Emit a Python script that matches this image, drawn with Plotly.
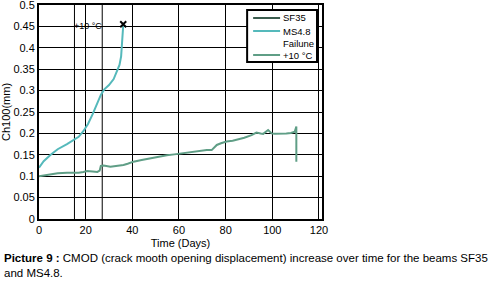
import plotly.graph_objects as go

# MS4.8 beam (failed at ~36 days)
ms_days = [0, 2, 5, 8, 12, 15, 17, 19, 21, 23, 25, 26.5, 28, 30, 32, 33.5, 34.5, 35.2, 35.5, 35.8, 36, 36.1]
ms_cmod = [0.12, 0.135, 0.15, 0.163, 0.175, 0.185, 0.192, 0.205, 0.222, 0.245, 0.27, 0.29, 0.303, 0.313, 0.327, 0.345, 0.36, 0.38, 0.40, 0.42, 0.44, 0.452]

# SF35 beam
sf_days = [0, 2, 5, 8, 12, 17, 19, 20.6, 23, 25, 26, 26.5, 27.7, 30.6, 33, 36.2, 38, 40.5, 44, 47.6, 51.9, 54.8, 58, 60.5, 63, 66.2, 69, 71.9, 74, 76.2, 78, 80.4, 83, 86.1, 88, 91.1, 93.2, 95, 96.1, 98.2, 99.7, 101, 103, 106, 108, 109.6, 110.3, 110.3]
sf_cmod = [0.1, 0.102, 0.104, 0.107, 0.108, 0.108, 0.11, 0.112, 0.111, 0.11, 0.113, 0.124, 0.125, 0.122, 0.124, 0.126, 0.129, 0.134, 0.138, 0.142, 0.146, 0.149, 0.151, 0.153, 0.154, 0.156, 0.158, 0.161, 0.161, 0.173, 0.177, 0.181, 0.183, 0.187, 0.19, 0.196, 0.202, 0.2, 0.199, 0.208, 0.2, 0.199, 0.199, 0.2, 0.201, 0.204, 0.216, 0.134]

failure_day = [36.1]
failure_cmod = [0.455]

temp_event_days = [15.2, 27.1]
temp_label = "+10 °C"

x_ticks = [0, 20, 40, 60, 80, 100, 120]
y_ticks = [0, 0.05, 0.1, 0.15, 0.2, 0.25, 0.3, 0.35, 0.4, 0.45, 0.5]

legend_names = ["SF35", "MS4.8", "Failune", temp_label]

c_sf_plot = "#5f9e86"
c_sf_leg = "#3b5c4e"
c_ms = "#55b9bb"
c_temp = "#5f9e86"
legend_colors = [c_sf_leg, c_ms, None, c_temp]

W, H = 502, 282
L, R, T, B = 38.5, 322, 5, 219   # plot area in pixels


def px_x(px):
    return (px - L) / (R - L)


def px_y(py):
    return (B - py) / (B - T)


fig = go.Figure()

fig.add_trace(go.Scatter(x=sf_days, y=sf_cmod, mode="lines",
                         line=dict(color=c_sf_plot, width=2), showlegend=False))
fig.add_trace(go.Scatter(x=ms_days, y=ms_cmod, mode="lines",
                         line=dict(color=c_ms, width=2), showlegend=False))
fig.add_trace(go.Scatter(x=failure_day, y=failure_cmod, mode="markers",
                         marker=dict(symbol="x-thin", size=6, line=dict(color="black", width=2)),
                         showlegend=False))

for d in temp_event_days:
    fig.add_shape(type="line", x0=d, x1=d, y0=0, y1=0.5, xref="x", yref="y",
                  line=dict(color="black", width=1), layer="below")

fig.add_annotation(x=(temp_event_days[0] + temp_event_days[1]) / 2 - 0.3, y=0.45,
                   text=temp_label, showarrow=False,
                   font=dict(size=9, color="black", family="Liberation Sans Narrow, Liberation Sans"))

# manual legend box
fig.add_shape(type="rect", xref="paper", yref="paper",
              x0=px_x(247), x1=px_x(317), y0=px_y(62), y1=px_y(10),
              fillcolor="white", line=dict(color="black", width=2), layer="above")
row_y = [18, 31, 43, 55]
for name, col, ry in zip(legend_names, legend_colors, row_y):
    if col is not None:
        fig.add_shape(type="line", xref="paper", yref="paper",
                      x0=px_x(253), x1=px_x(280), y0=px_y(ry), y1=px_y(ry),
                      line=dict(color=col, width=2), layer="above")
    fig.add_annotation(xref="paper", yref="paper", x=px_x(281), y=px_y(ry),
                       xanchor="left", yanchor="middle", text=name, showarrow=False,
                       font=dict(size=9.5, family="Liberation Sans Narrow, Liberation Sans"))

fig.update_layout(
    width=W, height=H,
    margin=dict(l=L, r=W - R, t=T, b=H - B),
    paper_bgcolor="white", plot_bgcolor="white",
    showlegend=False,
    font=dict(family="Liberation Sans, Arial, sans-serif", size=11, color="black"),
    xaxis=dict(range=[0, 121.3], tickvals=x_ticks, showgrid=True, gridcolor="black",
               gridwidth=1, showline=True, linecolor="black", linewidth=2, mirror=True,
               zeroline=False, ticks="", tickfont=dict(size=11), automargin=False,
               ticklabeloverflow="allow",
               title=dict(text="Time (Days)", font=dict(size=11), standoff=4)),
    yaxis=dict(range=[0, 0.5], tickvals=y_ticks, showgrid=True, gridcolor="black",
               gridwidth=1, showline=True, linecolor="black", linewidth=2, mirror=True,
               zeroline=False, ticks="", tickfont=dict(size=11), automargin=False,
               ticklabeloverflow="allow",
               title=dict(text="Ch100(mm)", font=dict(size=11), standoff=2)),
)

caption1 = "<b>Picture 9 :</b> CMOD (crack mooth opening displacement) increase over time for the beams SF35"
caption2 = "and MS4.8."
fig.add_annotation(xref="paper", yref="paper", x=px_x(1), y=px_y(258),
                   xanchor="left", yanchor="middle", text=caption1, showarrow=False,
                   font=dict(size=11.5))
fig.add_annotation(xref="paper", yref="paper", x=px_x(1), y=px_y(273),
                   xanchor="left", yanchor="middle", text=caption2, showarrow=False,
                   font=dict(size=11.5))

fig.write_html("out.html", config={"displayModeBar": False},
               post_script="document.body.style.margin='0';document.body.style.padding='0';")
